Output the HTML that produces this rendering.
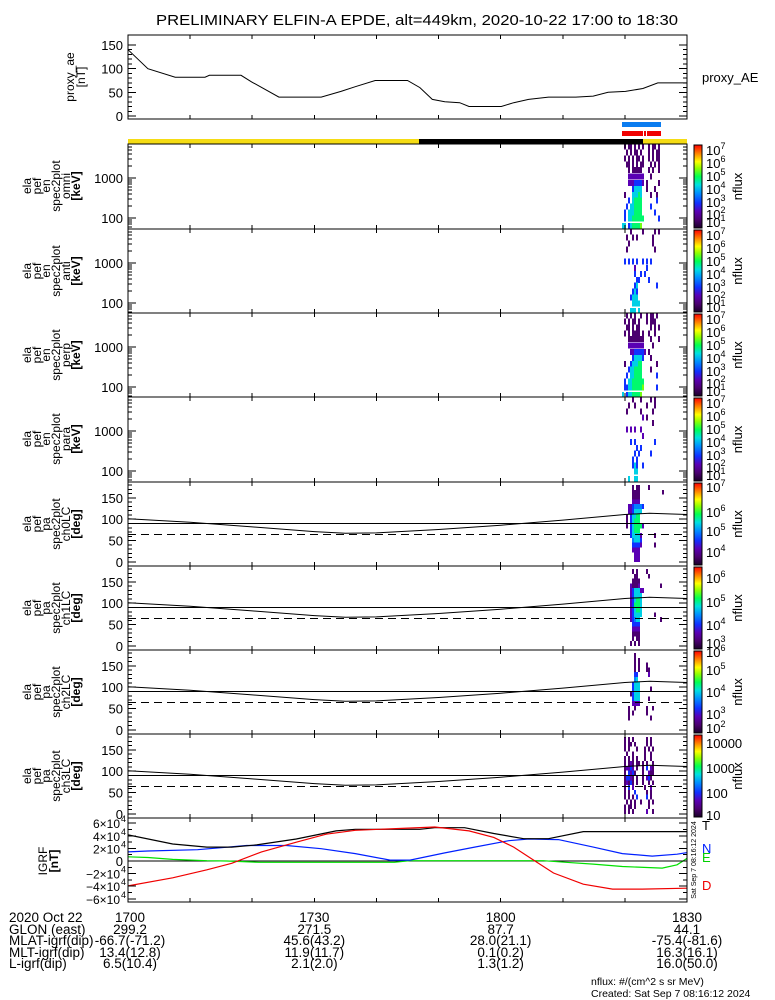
<!DOCTYPE html>
<html><head><meta charset="utf-8"><style>
html,body{margin:0;padding:0;background:#fff;}
svg{display:block;font-family:"Liberation Sans",sans-serif;}
svg line, svg rect{shape-rendering:crispEdges;}
</style></head><body>
<svg id="chart" width="775" height="1000" viewBox="0 0 775 1000" xmlns="http://www.w3.org/2000/svg">
<rect width="775" height="1000" fill="#fff"/>
<text x="156" y="25" font-size="15" textLength="522" lengthAdjust="spacingAndGlyphs">PRELIMINARY ELFIN-A EPDE, alt=449km, 2020-10-22 17:00 to 18:30</text>
<g id="layer"></g>
</svg>
<script>
// ---------- data ----------
const aeTimes = [0,3.2,7.6,12.4,13.1,18.2,19.9,24.3,31.1,34.3,36.6,39.8,45,47,49,51,53.4,54.9,60.1,62.1,64.5,67.7,72.1,74.9,77.3,80.1,82.9,85.3,90];
const aeValues = [140,100,82,82,86,86,72,40,40,52,62,75,75,60,35,30,28,20,20,28,35,40,40,42,50,52,58,70,70];
const energyBins = [63,97,138,194,271,377,531,752,1082,1570,2200,3100,4400,6200];
const specTimes = [79.53,79.85,80.17,80.50,80.82,81.14,81.46,81.78,82.11,82.43,82.75,83.07,83.39,83.72,84.04,84.36,84.68,85.00,85.33,85.65,85.97];
const omniRows = [
".1.11.1.1.1..1.11.1..","..1.1.11.1...1.1.11..",".1.1.1.11.1..1.1.11..","..11.1.1.11...1.1.1..",
"...1.11111...1.1..1..","...22222222...1......","...22233332.1.....1..",".....35555..1...1....",
".1...55565....1..1...","...3.56666.......3...","..3.556666....3......",".3.5556666......3....",
".3.55666666.......3..","55.3566667..........."];
const antiRows = [
"....1.....1.....1.1..","..1..1.1.......1.....","...1...........1.....","..1.............1....",
".....................",".3.3.3.3..3.3.3......","......2.....3........","......3..3.3.........",
".......33....3.......","......35.........3...",".....353.............","....3555.............",
".....5555............","....555.5............"];
const perpRows = [
"..1.1.1..1..1.11.1...",".1.1.11.1...1.111....","..11.1.11.....1.1.1..",".1.1.1111.1..1..1....",
"...11111111...1...1..","...22222222....1.....","....22333332.1.......",".....355553...1......",
".1..355566.......1...","...3556666....1......","..3.556666.......3...",".3.55666666..........",
".3355666667......3...","5.35566667..........."];
const paraRows = [
".....1...1....1.1....","...1..1.....1...1....","..1......1.....1.....","..........2.1........",
"...............1.....","..2.2.2..2...........","..........2..........","....3.3.........3....",
".......3.3...........","......3.3.....3......",".....3.3.............",".....353..3..........",
"......55.............","...5..55............."];
const pitchCurveTimes = [0,10,20,30,35,40,50,60,70,80,84,90];
const pitchCurveDeg = [101,93,82,71,67,68,76,86,98,111,114,111];
const ch0Rows = [
".....1.11....1.......",".....1111...........1",".....1111............",".....2222............",
"...22344443..........","...2235555...........","..1.35566............","..1.35666............",
"..1.3566662..........","....35666............","....355552......1....",".....45553...........",
".....33332......1....",".....2222............","......222............","......222............"];
const ch1Rows = [
".....1.1....1........","......11.....1.......",".....1111............","....21112..........1.",
"....2355522..........","....235555...........","....235665...........","....236665...........",
"....235665...........","....235555......1....","....23455..........1.",".....3333............",
".....2222............",".....1111............",".....1.11............","....1.1.1............"];
const ch2Rows = [
"......1..............","......1.1............","......1.1...1........","......1.1...11.......",
"......33.....2.......","......45.............",".....3555............",".....3555.....1......",
"....13555............",".....3555....1.......",".....2222............","...1..1.....1..1.....",
"...1.1......1........","...1..........1......",".....................","....................."];
const ch3Rows = [
".1.1.1......1.1......",".1.11.1.....1.1......",".1.1...1...1.1.1.....","..1..1.....1..1......",
".1.1.1.1...1..1......",".1.121.11.1.1..1.....",".12232.1..1.3.21.....",".1.3231...1..211.....",
".13321.1..1.231......",".12131.1..1..1.1.....",".1.3.2.....1..2......",".1.1..3.....1.1......",
".1.1.1.3....3.1......","..1.1.1..1...1.1.....",".1.11.1......1.......",".1.1.1......2..1....."];
const igrfTimesT = [0,7.2,12.7,16.7,20.7,27.1,33.5,36.6,47,49.4,54.2,58.9,63.7,67.7,73.3,79.6,90];
const igrfT = [41500,27000,22000,22000,25600,34900,47700,50300,50300,52800,52800,43600,35400,35400,46700,46700,46700];
const igrfTimesN = [0,3.2,11.2,19.1,25.5,31.1,36.6,42.2,45.4,51,55.8,61.3,64.5,69.3,74.9,79.6,84.4,88.4,90];
const igrfN = [14400,15900,18000,24600,24600,19500,11800,1500,1500,12800,22000,32300,34900,33900,22000,11800,7700,10800,13300];
const igrfTimesD = [0,7.2,12.7,16.7,21.5,27.1,31.9,36.6,49.4,54.9,58.9,62.1,65.3,68.5,73.3,78,82.8,90];
const igrfD = [-39500,-26700,-13900,-3600,14400,29800,42600,48700,53900,47700,37500,22000,1500,-19000,-36900,-44600,-44600,-43100];
const igrfTimesE = [0,3.2,7.2,12.7,15.9,21.1,42.9,45.4,66.9,70.5,74.9,79.6,86,88.4,90];
const igrfE = [6700,5600,2600,500,0,-2000,-2000,500,500,-2000,-5000,-8700,-11300,-6000,4100];
const tickTimes = [0,30,60,90];
const tickLabels = ["1700","1730","1800","1830"];
const infoRowNames = ["2020 Oct 22","GLON (east)","MLAT-igrf(dip)","MLT-igrf(dip)","L-igrf(dip)"];
const infoGLON = ["299.2","271.5","87.7","44.1"];
const infoMLAT = ["-66.7(-71.2)","45.6(43.2)","28.0(21.1)","-75.4(-81.6)"];
const infoMLT = ["13.4(12.8)","11.9(11.7)","0.1(0.2)","16.3(16.1)"];
const infoL = ["6.5(10.4)","2.1(2.0)","1.3(1.2)","16.0(50.0)"];

// ---------- helpers ----------
const NS="http://www.w3.org/2000/svg";
const layer=document.getElementById('layer');
const X0=128, X1=687, W=X1-X0;
function xT(m){return X0+m*W/90;}
function mk(tag,attrs,parent){const e=document.createElementNS(NS,tag);for(const k in attrs)e.setAttribute(k,attrs[k]);(parent||layer).appendChild(e);return e;}
function txt(s,attrs,parent){const e=mk('text',attrs,parent);e.textContent=s;return e;}
const stops=[[0,'#1a0028'],[0.1,'#4b0070'],[0.2,'#5a00b4'],[0.3,'#1030ff'],[0.42,'#0090ff'],[0.52,'#00e0e0'],[0.62,'#00ff50'],[0.72,'#90ff00'],[0.8,'#ffff00'],[0.9,'#ff8000'],[1,'#ff0000']];
function hex(c){return [parseInt(c.substr(1,2),16),parseInt(c.substr(3,2),16),parseInt(c.substr(5,2),16)];}
function cmap(t){t=Math.max(0,Math.min(1,t));for(let i=1;i<stops.length;i++){if(t<=stops[i][0]){const a=stops[i-1],b=stops[i];const f=(t-a[0])/(b[0]-a[0]);const A=hex(a[1]),B=hex(b[1]);return 'rgb('+A.map((v,j)=>Math.round(v+(B[j]-v)*f)).join(',')+')';}}return '#ff0000';}

const defs=mk('defs',{});
const grad=mk('linearGradient',{id:'cb',x1:'0',y1:'1',x2:'0',y2:'0'},defs);
stops.forEach(s=>mk('stop',{offset:s[0],'stop-color':s[1]},grad));

function timeTicks(top,bot){
  for(let m=10;m<90;m+=10){
    mk('line',{x1:xT(m),x2:xT(m),y1:top,y2:top+4,stroke:'#000'});
    mk('line',{x1:xT(m),x2:xT(m),y1:bot,y2:bot-4,stroke:'#000'});
  }
}
function yTick(y,len){
  mk('line',{x1:X0,x2:X0+len,y1:y,y2:y,stroke:'#000'});
  mk('line',{x1:X1,x2:X1-len,y1:y,y2:y,stroke:'#000'});
}
function sideLabel(lines,cx,cy,xs,boldLast){
  lines.forEach((s,i)=>{
    const t=txt(s,{x:0,y:0,'font-size':12,'text-anchor':'middle',transform:'translate('+(xs[i]+4)+','+cy+') rotate(-90)'});
    if(boldLast&&i===lines.length-1)t.setAttribute('font-weight','bold');
    
    
  });
}
function colorbar(top,bot,labels){
  const g=mk('g',{});
  
  
  mk('rect',{x:694,y:top+1,width:8,height:bot-top-2,fill:'url(#cb)',stroke:'#000','stroke-width':1},g);
  labels.forEach(l=>{
    const t=txt(l[0],{x:706,y:l[2]+5,'font-size':13},g);
    if(l[1]!==''){const sp=mk('tspan',{dy:-6,'font-size':9},t);sp.textContent=l[1];}
  });
  const n=txt('nflux',{x:0,y:0,'font-size':13,'text-anchor':'middle',transform:'translate(742,'+((top+bot)/2)+') rotate(-90)'},g);
  
  
}

// ---------- top proxy AE panel ----------
(function(){
  const top=35,bot=119; const yv=v=>116-v*0.4733;
  const g=mk('g',{});
  
  
  mk('rect',{x:X0,y:top,width:W,height:bot-top,fill:'none',stroke:'#000'},g);
  timeTicks(top,bot);
  for(let v=0;v<=150;v+=10){yTick(yv(v),v%50===0?8:4);}
  [0,50,100,150].forEach(v=>{const t=txt(String(v),{x:123,y:yv(v)+5,'font-size':13,'text-anchor':'end'});});
  const pts=aeTimes.map((m,i)=>xT(m).toFixed(1)+','+yv(aeValues[i]).toFixed(1)).join(' ');
  const pl=mk('polyline',{points:pts,fill:'none',stroke:'#000','stroke-width':1});
  
  
  sideLabel(['proxy_ae','[nT]'],0,77,[70,81],false);
  const lb=txt('proxy_AE',{x:702,y:82,'font-size':13});
  
  
})();

// ---------- status bars ----------
(function(){
  const b=mk('rect',{x:622,y:122,width:39,height:5,fill:'#0a7cf0'});
  
  
  const r=mk('rect',{x:622,y:131,width:39,height:5,fill:'#f00000'});
  
  
  mk('rect',{x:643,y:131,width:1,height:5,fill:'#fff'});
  mk('rect',{x:646,y:131,width:1,height:5,fill:'#fff'});
  const y=mk('rect',{x:X0,y:139,width:W,height:5,fill:'#f5dc14'});
  
  
  const k=mk('rect',{x:419,y:139,width:224,height:5,fill:'#000'});
  
  
})();

// ---------- energy spectrogram panels ----------
const energyPanels=[
 {top:144,bot:229,rows:omniRows,name:'omni',lbl:'omni'},
 {top:229,bot:313,rows:antiRows,name:'anti',lbl:'anti'},
 {top:313,bot:397,rows:perpRows,name:'perp',lbl:'perp'},
 {top:397,bot:482,rows:paraRows,name:'para',lbl:'para'}];
const ecbLabels=[['10','7',6],['10','6',19],['10','5',32],['10','4',45],['10','3',58],['10','2',70],['10','1',78]];
const dtCol=specTimes[1]-specTimes[0];
energyPanels.forEach(p=>{
  const top=p.top,bot=p.bot,H=bot-top;
  const yE=E=>top+74-40*Math.log10(E/100);
  const g=mk('g',{});
  
  
  const cid='clipE'+p.name;
  const cp=mk('clipPath',{id:cid},defs);mk('rect',{x:X0,y:top,width:W,height:H},cp);
  const cg=mk('g',{'clip-path':'url(#'+cid+')'},g);
  p.rows.forEach((row,r)=>{
    const E=energyBins[energyBins.length-1-r];
    for(let c=0;c<row.length&&c<specTimes.length;c++){
      const ch=row[c]; if(ch==='.')continue;
      const v=+ch;
      const cell=mk('rect',{x:xT(specTimes[c]).toFixed(1),y:(yE(E)-3).toFixed(1),width:(xT(specTimes[c]+dtCol)-xT(specTimes[c])).toFixed(1),height:6,fill:cmap(v/10)},cg);
      
      
    }
  });
  mk('rect',{x:X0,y:top,width:W,height:H,fill:'none',stroke:'#000'},g);
  timeTicks(top,bot);
  [10,100,1000].forEach(k=>{for(let m=1;m<=9;m++){const y=yE(m*k);if(y>top+1&&y<bot-1)yTick(y,m===1?8:4);}});
  [['1000',1000],['100',100]].forEach(l=>{const t=txt(l[0],{x:123,y:yE(l[1])+5,'font-size':13,'text-anchor':'end'});});
  sideLabel(['ela','pef','en','spec2plot',p.lbl,'[keV]'],0,top+42,[27,37,46,56,66,76],true);
  colorbar(top,bot,ecbLabels.map(l=>[l[0],l[1],top+l[2]]));
});

// ---------- pitch angle panels ----------
const pitchPanels=[
 {top:482,rows:ch0Rows,lbl:'ch0LC',cb:[['10','7',5],['10','6',30],['10','5',49],['10','4',70]]},
 {top:566,rows:ch1Rows,lbl:'ch1LC',cb:[['10','6',12],['10','5',36],['10','4',59],['10','3',77]]},
 {top:650,rows:ch2Rows,lbl:'ch2LC',cb:[['10','6',2],['10','5',20],['10','4',42],['10','3',64],['10','2',78]]},
 {top:734,rows:ch3Rows,lbl:'ch3LC',cb:[['10000','',9],['1000','',34],['100','',59],['10','',81]]}];
pitchPanels.forEach((p,pi)=>{
  const top=p.top,bot=top+84;
  const yP=d=>top+80-d*0.4278;
  const g=mk('g',{});
  
  
  const cid='clipP'+pi;
  const cp=mk('clipPath',{id:cid},defs);mk('rect',{x:X0,y:top,width:W,height:84},cp);
  const cg=mk('g',{'clip-path':'url(#'+cid+')'},g);
  const nb=p.rows.length, bw=180/nb;
  p.rows.forEach((row,r)=>{
    const d=180-(r+0.5)*bw;
    for(let c=0;c<row.length&&c<specTimes.length;c++){
      const ch=row[c]; if(ch==='.')continue;
      const v=+ch;
      const cell=mk('rect',{x:xT(specTimes[c]).toFixed(1),y:(yP(d)-bw*0.4278/2).toFixed(1),width:(xT(specTimes[c]+dtCol)-xT(specTimes[c])).toFixed(1),height:(bw*0.4278).toFixed(2),fill:cmap(v/10)},cg);
      
      
    }
  });
  const pts=pitchCurveTimes.map((m,i)=>xT(m).toFixed(1)+','+yP(pitchCurveDeg[i]).toFixed(1)).join(' ');
  const lc=mk('polyline',{points:pts,fill:'none',stroke:'#000'},g);
  
  
  const h=mk('line',{x1:X0,x2:X1,y1:yP(90),y2:yP(90),stroke:'#000'},g);
  
  
  const ds=mk('line',{x1:X0,x2:X1,y1:yP(64),y2:yP(64),stroke:'#000','stroke-dasharray':'8,5'},g);
  
  
  mk('rect',{x:X0,y:top,width:W,height:84,fill:'none',stroke:'#000'},g);
  timeTicks(top,bot);
  for(let d=0;d<=180;d+=10){yTick(yP(d),d%50===0?8:4);}
  [0,50,100,150].forEach(d=>{const t=txt(String(d),{x:123,y:yP(d)+5,'font-size':13,'text-anchor':'end'});});
  sideLabel(['ela','pef','pa','spec2plot',p.lbl,'[deg]'],0,top+42,[27,37,46,56,66,76],true);
  colorbar(top,bot,p.cb.map(l=>[l[0],l[1],top+l[2]]));
});

// ---------- IGRF panel ----------
(function(){
  const top=818,bot=902;
  const yv=v=>861-v*0.00063;
  const g=mk('g',{});
  
  
  const cp=mk('clipPath',{id:'clipI'},defs);mk('rect',{x:X0,y:top,width:W,height:84},cp);
  const cg=mk('g',{'clip-path':'url(#clipI)'},g);
  mk('line',{x1:X0,x2:X1,y1:yv(0),y2:yv(0),stroke:'#000'},cg);
  const series=[[igrfTimesE,igrfE,'#00e000','igrf-e-line'],[igrfTimesN,igrfN,'#0020ff','igrf-n-line'],[igrfTimesT,igrfT,'#000','igrf-t-line'],[igrfTimesD,igrfD,'#f00000','igrf-d-line']];
  series.forEach(s=>{
    const pts=s[0].map((m,i)=>xT(m).toFixed(1)+','+yv(s[1][i]).toFixed(1)).join(' ');
    const pl=mk('polyline',{points:pts,fill:'none',stroke:s[2],'stroke-width':1.2},cg);
    
    
  });
  mk('rect',{x:X0,y:top,width:W,height:84,fill:'none',stroke:'#000'},g);
  timeTicks(top,bot);
  for(let v=-60000;v<=60000;v+=10000){yTick(yv(v),v%20000===0?8:4);}
  [-6,-4,-2,0,2,4,6].forEach(k=>{
    if(k===0){const t=txt('0',{x:123,y:yv(0)+5,'font-size':13,'text-anchor':'end'});return;}
    const t=txt((k<0?'\u2212':'')+Math.abs(k)+'\u00d710',{x:120,y:yv(k*10000)+5,'font-size':12,'text-anchor':'end'});
    
    
    txt('4',{x:121,y:yv(k*10000)-1,'font-size':9});
  });
  sideLabel(['IGRF','[nT]'],0,861,[43,54],true);
  [['T','#000',830],['N','#0020ff',853],['E','#00d000',862],['D','#f00000',890]].forEach(l=>{
    const t=txt(l[0],{x:702,y:l[2],'font-size':13,fill:l[1]});
    
    
  });
  const st=txt('Sat Sep  7 08:16:12 2024',{x:0,y:0,'font-size':7,'text-anchor':'middle',transform:'translate(696,860) rotate(-90)','xml:space':'preserve'});
  
  
})();

// ---------- bottom info table ----------
(function(){
  const ys=[922,934,945,957,968];
  infoRowNames.forEach((n,i)=>{const t=txt(n,{x:9,y:ys[i],'font-size':13.5});});
  const cols=[tickLabels,infoGLON,infoMLAT,infoMLT,infoL];
  cols.forEach((arr,i)=>{
    arr.forEach((s,j)=>{
      const t=txt(s,{x:xT(tickTimes[j])+(j===0?2:0),y:ys[i],'font-size':13.5,'text-anchor':'middle'});
      
      
    });
  });
  const a=txt('nflux: #/(cm^2 s sr MeV)',{x:591,y:985,'font-size':10.5});
  
  
  const b=txt('Created: Sat Sep  7 08:16:12 2024',{x:591,y:997,'font-size':10.5,'xml:space':'preserve'});
  
  
})();
</script>
</body></html>
